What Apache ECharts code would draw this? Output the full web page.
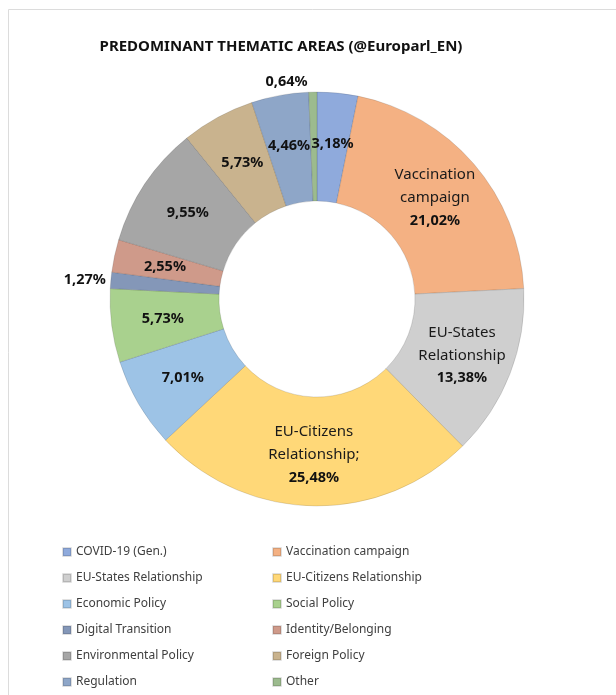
<!DOCTYPE html>
<html>
<head>
<meta charset="utf-8">
<script src="https://cdn.jsdelivr.net/npm/echarts@6/dist/echarts.min.js"></script>
<style>
  html, body { margin: 0; padding: 0; background: #fff; }
  #chart { width: 616px; height: 695px; }
</style>
</head>
<body>
<div id="chart"></div>
<script>
// values (percent of posts)
var categories = ['COVID-19 (Gen.)', 'Vaccination campaign', 'EU-States Relationship', 'EU-Citizens Relationship',
    'Economic Policy', 'Social Policy', 'Digital Transition', 'Identity/Belonging',
    'Environmental Policy', 'Foreign Policy', 'Regulation', 'Other'];
var values = [3.18, 21.02, 13.38, 25.48, 7.01, 5.73, 1.27, 2.55, 9.55, 5.73, 4.46, 0.64];
// names written inside the big slices
var sliceNames = ['', 'Vaccination\ncampaign', 'EU-States\nRelationship', 'EU-Citizens\nRelationship;',
    '', '', '', '', '', '', '', ''];
// small slices get their label outside the ring
var outside = ['Digital Transition', 'Other'];

var colors = ['#8faadc', '#f4b183', '#cfcfcf', '#ffd878', '#9dc3e6', '#a9d18e',
    '#8497b8', '#cf9a8a', '#a6a6a6', '#c9b38e', '#8ea6c8', '#9cbb8e'];

var chart = echarts.init(document.getElementById('chart'));

function pct(v) {
    return v.toFixed(2).replace('.', ',') + '%';
}

var pieData = categories.map(function (c, i) {
    var item = {
        name: c,
        value: values[i],
        itemStyle: { color: colors[i] }
    };
    if (outside.indexOf(c) >= 0) {
        item.label = { position: 'outside' };
        item.labelLine = { show: false, length: c === 'Other' ? 10 : 0, length2: 0 };
    }
    return item;
});

var legendLeft = categories.filter(function (c, i) { return i % 2 === 0; });
var legendRight = categories.filter(function (c, i) { return i % 2 === 1; });

var legendBase = {
    orient: 'vertical',
    top: 545,
    padding: 0,
    icon: 'rect',
    itemWidth: 8,
    itemHeight: 8,
    itemGap: 12,
    selectedMode: false,
    textStyle: { fontFamily: 'Noto Sans', fontSize: 12, color: '#404040', lineHeight: 14 }
};

chart.setOption({
    animation: false,
    backgroundColor: '#fff',
    title: {
        text: 'PREDOMINANT THEMATIC AREAS (@Europarl_EN)',
        left: 276,
        top: 34,
        textAlign: 'center',
        textStyle: { fontFamily: 'Noto Sans', fontSize: 15, fontWeight: 'bold', color: '#111' }
    },
    graphic: [{
        type: 'rect',
        shape: { x: 8.5, y: 9.5, width: 700, height: 700 },
        style: { fill: 'none', stroke: '#dcdcdc', lineWidth: 1 }
    }],
    legend: [
        Object.assign({ left: 62, data: legendLeft }, legendBase),
        Object.assign({ left: 272, data: legendRight }, legendBase)
    ],
    series: [{
        type: 'pie',
        center: [317, 299],
        radius: [98, 207],
        startAngle: 90,
        clockwise: true,
        avoidLabelOverlap: false,
        data: pieData,
        itemStyle: { borderColor: 'rgba(0,0,0,0.12)', borderWidth: 1 },
        label: {
            show: true,
            position: 'inside',
            formatter: function (p) {
                var n = sliceNames[p.dataIndex];
                return (n ? '{n|' + n.split('\n').join('}\n{n|') + '}\n' : '') + '{b|' + pct(p.value) + '}';
            },
            rich: {
                n: { fontFamily: 'Noto Sans', fontSize: 15, color: '#1a1a1a', lineHeight: 23 },
                b: { fontFamily: 'Noto Sans', fontSize: 14.5, fontWeight: 'bold', color: '#111', lineHeight: 23 }
            }
        },
        labelLine: { show: false }
    }]
});
</script>
</body>
</html>
